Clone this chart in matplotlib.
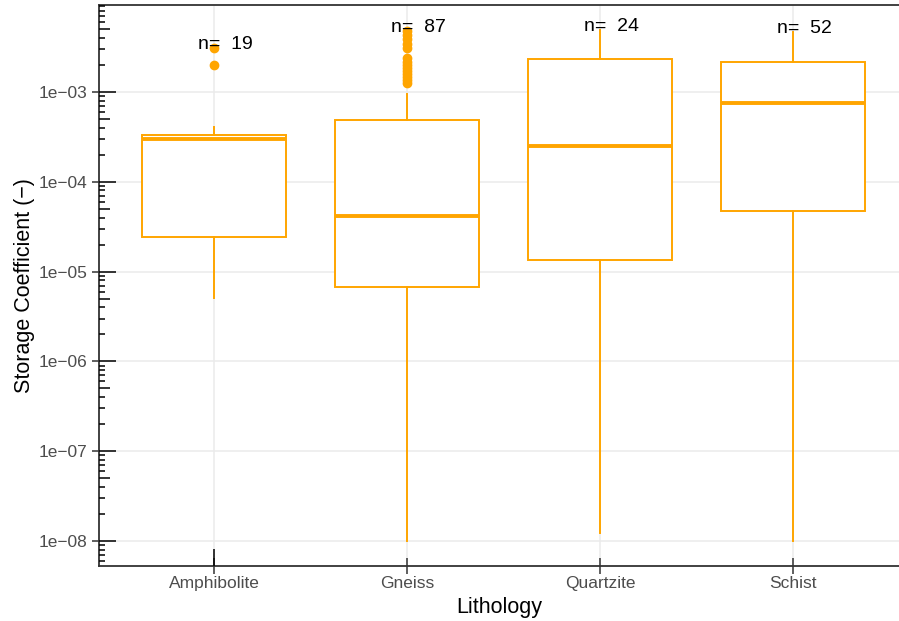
import numpy as np
import matplotlib
matplotlib.use('Agg')
import matplotlib.pyplot as plt
import matplotlib.transforms as mtransforms
from matplotlib.ticker import FixedLocator, FuncFormatter, NullLocator

plt.rcParams['font.family'] = ['Liberation Sans', 'DejaVu Sans']

# values (box statistics, computed on linear data)
categories = ["Amphibolite", "Gneiss", "Quartzite", "Schist"]
n_obs   = [19, 87, 24, 52]
q1      = [2.43e-5, 6.75e-6, 1.35e-5, 4.73e-5]
medians = [3.0e-4, 4.16e-5, 2.5e-4, 7.55e-4]
q3      = [3.32e-4, 4.88e-4, 2.33e-3, 2.16e-3]
whislo  = [5.1e-6, 1.0e-8, 1.23e-8, 1.0e-8]
whishi  = [4.07e-4, 9.5e-4, 4.9e-3, 4.65e-3]
fliers  = [
    [3.09e-3, 2.0e-3],
    [4.77e-3, 4.31e-3, 3.89e-3, 3.43e-3, 3.09e-3, 2.39e-3, 2.16e-3,
     2.0e-3, 1.85e-3, 1.71e-3, 1.58e-3, 1.47e-3, 1.36e-3, 1.26e-3],
    [],
    [],
]

ORANGE = '#FFA500'
GRID   = '#EBEBEB'
AXIS   = '#333333'
TICKTXT = '#4D4D4D'

fig = plt.figure(figsize=(8.99, 6.21), dpi=100)
ax = fig.add_axes([0.1101, 0.0886, 0.8899, 0.9034])

stats = []
for i, name in enumerate(categories):
    stats.append({'label': name, 'q1': q1[i], 'med': medians[i], 'q3': q3[i],
                  'whislo': whislo[i], 'whishi': whishi[i], 'fliers': fliers[i]})

pos = np.arange(1, len(categories) + 1)
ax.bxp(stats, positions=pos, widths=0.75, showcaps=False, patch_artist=True,
       boxprops=dict(facecolor='white', edgecolor=ORANGE, linewidth=1.4),
       medianprops=dict(color=ORANGE, linewidth=2.8),
       whiskerprops=dict(color=ORANGE, linewidth=1.4),
       flierprops=dict(marker='o', markerfacecolor=ORANGE, markeredgecolor=ORANGE,
                       markersize=6, linestyle='none'),
       zorder=3)

ax.set_yscale('log')
ax.set_ylim(10 ** -8.278, 10 ** -2.031)
ax.set_xlim(0.404, 4.549)

# sample size labels just above the highest point of each group
for i, name in enumerate(categories):
    top = max([whishi[i]] + fliers[i])
    ax.annotate('n=  {}'.format(n_obs[i]), xy=(pos[i] + 0.057, top),
                xytext=(0, 2.5), textcoords='offset points',
                ha='center', va='center', fontsize=14, color='black', zorder=5)

# grid
decades = np.arange(-8, -2)
ax.yaxis.set_major_locator(FixedLocator(10.0 ** decades))
ax.yaxis.set_minor_locator(NullLocator())
ax.yaxis.set_major_formatter(FuncFormatter(lambda v, _: '1e\u2212{:02d}'.format(int(round(-np.log10(v))))))
ax.set_xticks(pos)
ax.set_xticklabels(categories)
ax.grid(True, which='major', color=GRID, linewidth=1.1, zorder=0)
ax.set_axisbelow(True)

# log ticks along the left side
blend = mtransforms.blended_transform_factory(ax.transAxes, ax.transData)
for d in range(-9, -1):
    for k in range(1, 10):
        if k == 1:
            L = 0.0213
        elif k == 5:
            L = 0.0138
        else:
            L = 0.0075
        ax.hlines(k * 10.0 ** d, 0, L, transform=blend, color='black',
                  linewidth=1.1, zorder=4)

# bottom log tick at the first category
blend_x = mtransforms.blended_transform_factory(ax.transData, ax.transAxes)
ax.vlines(pos[0], 0, 0.0303, transform=blend_x, color='black', linewidth=1.1, zorder=4)

ax.tick_params(axis='y', direction='out', length=5, width=1.1, color=AXIS,
               labelsize=12.5, labelcolor=TICKTXT, pad=3)
ax.tick_params(axis='x', direction='inout', length=11, width=1.1, color=AXIS,
               labelsize=12.5, labelcolor=TICKTXT, pad=2)

for s in ['left', 'bottom', 'top']:
    ax.spines[s].set_color(AXIS)
    ax.spines[s].set_linewidth(1.3)
ax.spines['right'].set_visible(False)

ax.set_xlabel('Lithology', fontsize=15.5, color='black', labelpad=4)
ax.set_ylabel('Storage Coefficient (\u2212)', fontsize=15.5, color='black', labelpad=3)

fig.savefig('out.png', dpi=100, facecolor='white')
